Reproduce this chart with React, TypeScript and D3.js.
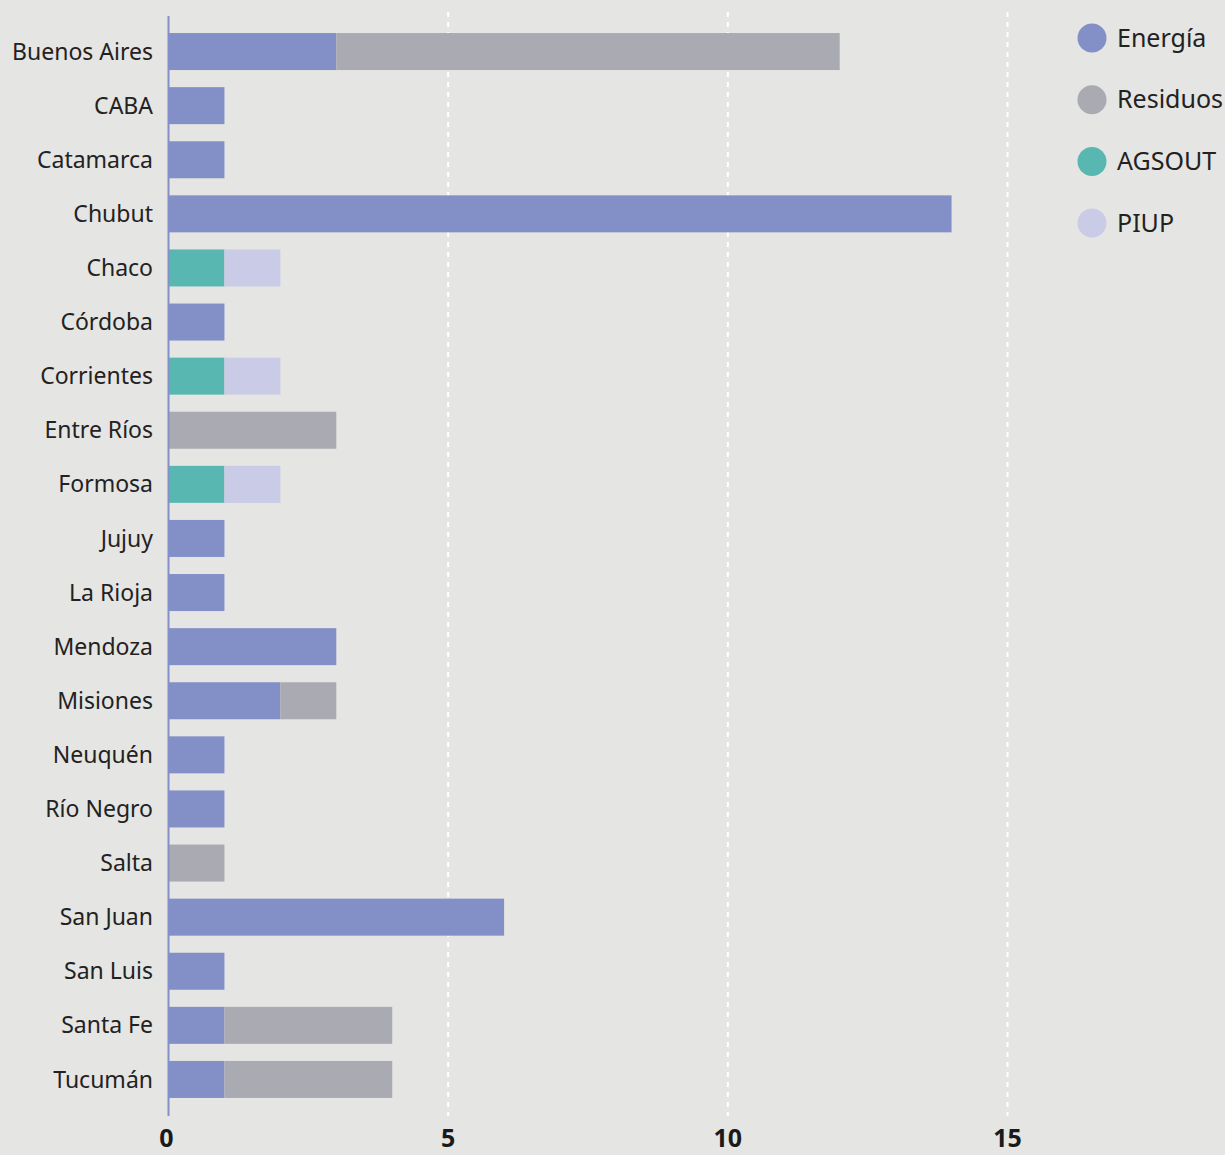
import { useEffect, useRef } from 'react';
import * as d3 from 'd3';

const provinces = [
  'Buenos Aires', 'CABA', 'Catamarca', 'Chubut', 'Chaco', 'Córdoba', 'Corrientes',
  'Entre Ríos', 'Formosa', 'Jujuy', 'La Rioja', 'Mendoza', 'Misiones', 'Neuquén',
  'Río Negro', 'Salta', 'San Juan', 'San Luis', 'Santa Fe', 'Tucumán',
];

const energia = [3, 1, 1, 14, 0, 1, 0, 0, 0, 1, 1, 3, 2, 1, 1, 0, 6, 1, 1, 1];
const residuos = [9, 0, 0, 0, 0, 0, 0, 3, 0, 0, 0, 0, 1, 0, 0, 1, 0, 0, 3, 3];
const agsout = [0, 0, 0, 0, 1, 0, 1, 0, 1, 0, 0, 0, 0, 0, 0, 0, 0, 0, 0, 0];
const piup = [0, 0, 0, 0, 1, 0, 1, 0, 1, 0, 0, 0, 0, 0, 0, 0, 0, 0, 0, 0];

const xTicks = [0, 5, 10, 15];

const SERIES = [
  { key: 'energia', label: 'Energía', color: '#8390c7', values: energia },
  { key: 'residuos', label: 'Residuos', color: '#aaaab2', values: residuos },
  { key: 'agsout', label: 'AGSOUT', color: '#58b8b1', values: agsout },
  { key: 'piup', label: 'PIUP', color: '#cacbe6', values: piup },
];

const WIDTH = 1225;
const HEIGHT = 1155;
const FONT = '"Noto Sans", sans-serif';

export default function App() {
  const svgRef = useRef<SVGSVGElement>(null);

  useEffect(() => {
    document.body.style.margin = '0';
    if (!svgRef.current) return;

    const rows = provinces.map((name, i) => {
      const row: any = { name };
      SERIES.forEach((s) => (row[s.key] = s.values[i]));
      return row;
    });

    const svg = d3.select(svgRef.current);
    svg.selectAll('*').remove();

    svg.append('rect').attr('width', WIDTH).attr('height', HEIGHT).attr('fill', '#e5e5e3');

    const x = d3.scaleLinear().domain([0, 15]).range([168.5, 1007.5]);
    const y = d3
      .scaleBand<string>()
      .domain(provinces)
      .range([24.5, 1106.5])
      .paddingInner(0.316)
      .paddingOuter(0.158);

    // dashed grid
    svg
      .append('g')
      .selectAll('line')
      .data(xTicks.filter((t) => t > 0))
      .enter()
      .append('line')
      .attr('x1', (d) => x(d))
      .attr('x2', (d) => x(d))
      .attr('y1', 12)
      .attr('y2', 1116)
      .attr('stroke', '#ffffff')
      .attr('stroke-width', 2)
      .attr('stroke-dasharray', '5,5');

    const stacked = d3
      .stack<any>()
      .keys(SERIES.map((s) => s.key))
      .order(d3.stackOrderNone)
      .offset(d3.stackOffsetNone)(rows);

    svg
      .append('g')
      .selectAll('g')
      .data(stacked)
      .enter()
      .append('g')
      .attr('fill', (_, i) => SERIES[i].color)
      .selectAll('rect')
      .data((d) => d.filter((p) => p[1] - p[0] > 0))
      .enter()
      .append('rect')
      .attr('x', (d) => x(d[0]))
      .attr('width', (d) => x(d[1]) - x(d[0]))
      .attr('y', (d) => y(d.data.name) as number)
      .attr('height', y.bandwidth());

    // axis line
    svg
      .append('line')
      .attr('x1', x(0))
      .attr('x2', x(0))
      .attr('y1', 16)
      .attr('y2', 1116)
      .attr('stroke', '#8390c7')
      .attr('stroke-width', 2);

    // province labels
    svg
      .append('g')
      .selectAll('text')
      .data(provinces)
      .enter()
      .append('text')
      .attr('x', 153)
      .attr('y', (d) => (y(d) as number) + y.bandwidth() / 2)
      .attr('dy', '0.35em')
      .attr('text-anchor', 'end')
      .attr('font-family', FONT)
      .attr('font-size', 23)
      .attr('fill', '#222222')
      .text((d) => d);

    // x tick labels
    svg
      .append('g')
      .selectAll('text')
      .data(xTicks)
      .enter()
      .append('text')
      .attr('x', (d) => x(d) - (d === 0 ? 2 : 0))
      .attr('y', 1147)
      .attr('text-anchor', 'middle')
      .attr('font-family', FONT)
      .attr('font-size', 25)
      .attr('font-weight', 700)
      .attr('fill', '#1a1a1a')
      .text((d) => d);

    // legend
    const legend = svg
      .append('g')
      .selectAll('g')
      .data(SERIES)
      .enter()
      .append('g')
      .attr('transform', (_, i) => `translate(1092,${38 + i * 61.7})`);

    legend.append('circle').attr('r', 14.5).attr('fill', (d) => d.color);
    legend
      .append('text')
      .attr('x', 25)
      .attr('dy', '0.35em')
      .attr('font-family', FONT)
      .attr('font-size', 25)
      .attr('fill', '#222222')
      .text((d) => d.label);
  }, []);

  return <svg ref={svgRef} width={WIDTH} height={HEIGHT} style={{ display: 'block' }} />;
}
